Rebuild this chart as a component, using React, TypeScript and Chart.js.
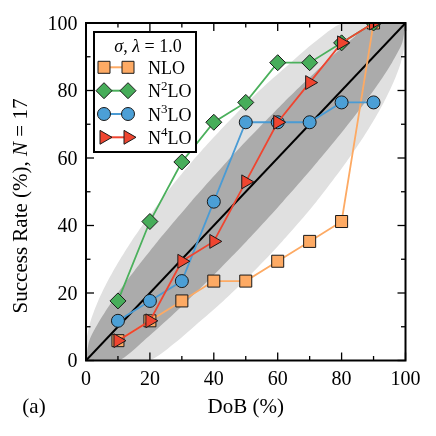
import React, { useEffect, useRef } from 'react';
import { Chart, registerables } from 'chart.js';

Chart.register(...registerables);

// ---- data ----
const dobValues = [10, 20, 30, 40, 50, 60, 70, 80, 90];
const nloRate = [5.88, 11.76, 17.65, 23.53, 23.53, 29.41, 35.29, 41.18, 100];
const n2loRate = [17.65, 41.18, 58.82, 70.59, 76.47, 88.24, 88.24, 94.12, 100];
const n3loRate = [11.76, 17.65, 23.53, 47.06, 70.59, 70.59, 70.59, 76.47, 76.47];
const n4loRate = [5.88, 11.76, 29.41, 35.29, 52.94, 70.59, 82.35, 94.12, 100];
const seriesLabels = ['NLO', 'N²LO', 'N³LO', 'N⁴LO'];

// band edges (DoB values of the band boundaries at each success-rate level)
const bandRate = [0, 5.88, 11.76, 17.65, 23.53, 29.41, 35.29, 41.18, 47.06, 52.94, 58.82, 64.71, 70.59, 76.47, 82.35, 88.24, 94.12, 100];
const band95Left = [0, 0.15, 1.46, 3.8, 6.8, 10.3, 14.2, 18.5, 23.1, 27.9, 33.1, 38.6, 44.4, 50.5, 57.0, 64.1, 71.3, 80.5];
const band95Right = [19.5, 28.7, 35.9, 43.0, 49.5, 55.6, 61.4, 66.9, 72.1, 76.9, 81.5, 85.8, 89.7, 93.2, 96.2, 98.54, 99.85, 100];
const band68Left = [0, 1.02, 4.23, 8.24, 12.7, 17.45, 22.4, 27.6, 32.9, 38.4, 44.0, 49.8, 55.8, 61.9, 68.3, 74.9, 81.9, 89.8];
const band68Right = [10.2, 18.1, 25.1, 31.7, 38.1, 44.2, 50.2, 56.0, 61.6, 67.1, 72.4, 77.6, 82.55, 87.3, 91.76, 95.77, 98.98, 100];

const diagonalEnds = [0, 100];
const majorTicks = [0, 20, 40, 60, 80, 100];
const minorTicks = [10, 30, 50, 70, 90];
const tickLabels = ['0', '20', '40', '60', '80', '100'];

const SERIF = '"Liberation Serif", "Times New Roman", serif';

const COLORS = {
  nloFill: '#fdaa64', nloLine: '#fdaa64',
  n2Fill: '#47ad5a', n2Line: '#4bb05c',
  n3Fill: '#4b9fd6', n3Line: '#4a9bd4',
  n4Fill: '#ef4530', n4Line: '#ef4530',
  light: '#e0e0e0', dark: '#ababab',
};

function bandPolygon(left: number[], right: number[]) {
  const pts: { x: number; y: number }[] = [];
  for (let i = 0; i < bandRate.length; i++) pts.push({ x: left[i], y: bandRate[i] });
  pts.push({ x: diagonalEnds[1], y: diagonalEnds[1] });
  for (let i = bandRate.length - 1; i >= 0; i--) pts.push({ x: right[i], y: bandRate[i] });
  pts.push({ x: diagonalEnds[0], y: diagonalEnds[0] });
  return pts;
}

function series(vals: number[]) {
  return dobValues.map((x, i) => ({ x, y: vals[i] }));
}

type Marker = 'square' | 'diamond' | 'circle' | 'triangle';

function drawMarker(ctx: CanvasRenderingContext2D, kind: Marker, cx: number, cy: number, fill: string) {
  ctx.beginPath();
  if (kind === 'square') {
    ctx.rect(cx - 6, cy - 6, 12, 12);
  } else if (kind === 'diamond') {
    const r = 8;
    ctx.moveTo(cx - r, cy); ctx.lineTo(cx, cy - r); ctx.lineTo(cx + r, cy); ctx.lineTo(cx, cy + r); ctx.closePath();
  } else if (kind === 'circle') {
    ctx.arc(cx, cy, 6.5, 0, Math.PI * 2);
  } else {
    const r = 8;
    ctx.moveTo(cx + r, cy);
    ctx.lineTo(cx - r / 2, cy - r * 0.866);
    ctx.lineTo(cx - r / 2, cy + r * 0.866);
    ctx.closePath();
  }
  ctx.fillStyle = fill;
  ctx.fill();
  ctx.lineWidth = 1;
  ctx.strokeStyle = '#1a1a1a';
  ctx.stroke();
}

const supMap: Record<string, string> = { '²': '2', '³': '3', '⁴': '4' };

function drawRichText(ctx: CanvasRenderingContext2D, parts: { t: string; italic?: boolean; sup?: boolean }[], x: number, y: number, size: number, align: 'left' | 'center') {
  const fontFor = (p: { italic?: boolean; sup?: boolean }) =>
    `${p.italic ? 'italic ' : ''}${p.sup ? Math.round(size * 0.7) : size}px ${SERIF}`;
  let total = 0;
  for (const p of parts) { ctx.font = fontFor(p); total += ctx.measureText(p.t).width; }
  let cx = align === 'center' ? x - total / 2 : x;
  ctx.textAlign = 'left';
  ctx.textBaseline = 'alphabetic';
  for (const p of parts) {
    ctx.font = fontFor(p);
    ctx.fillText(p.t, cx, p.sup ? y - size * 0.42 : y);
    cx += ctx.measureText(p.t).width;
  }
  return total;
}

function labelParts(label: string) {
  const parts: { t: string; sup?: boolean }[] = [];
  for (const ch of label) {
    if (supMap[ch]) parts.push({ t: supMap[ch], sup: true });
    else if (parts.length && !parts[parts.length - 1].sup) parts[parts.length - 1].t += ch;
    else parts.push({ t: ch });
  }
  return parts;
}

const legendItems: { marker: Marker; fill: string; line: string }[] = [
  { marker: 'square', fill: COLORS.nloFill, line: COLORS.nloLine },
  { marker: 'diamond', fill: COLORS.n2Fill, line: COLORS.n2Line },
  { marker: 'circle', fill: COLORS.n3Fill, line: COLORS.n3Line },
  { marker: 'triangle', fill: COLORS.n4Fill, line: COLORS.n4Line },
];

const decorPlugin = {
  id: 'decor',
  afterDatasetsDraw(chart: any) {
    const ctx: CanvasRenderingContext2D = chart.ctx;
    const { left, right, top, bottom } = chart.chartArea;
    const xs = chart.scales.x;
    const ys = chart.scales.y;
    ctx.save();
    ctx.strokeStyle = '#000';
    ctx.lineWidth = 1.3;
    const seg = (x1: number, y1: number, x2: number, y2: number) => {
      ctx.beginPath(); ctx.moveTo(x1, y1); ctx.lineTo(x2, y2); ctx.stroke();
    };
    const ticks = (vals: number[], len: number) => {
      for (const v of vals) {
        const px = xs.getPixelForValue(v);
        const py = ys.getPixelForValue(v);
        seg(px, bottom, px, bottom - len);
        seg(px, top, px, top + len);
        seg(left, py, left + len, py);
        seg(right, py, right - len, py);
      }
    };
    ticks(majorTicks, 8);
    ticks(minorTicks, 4.5);
    ctx.lineWidth = 2;
    ctx.strokeRect(left, top, right - left, bottom - top);

    // tick labels
    ctx.fillStyle = '#000';
    ctx.font = `20px ${SERIF}`;
    ctx.textBaseline = 'alphabetic';
    majorTicks.forEach((v, i) => {
      ctx.textAlign = 'center';
      ctx.fillText(tickLabels[i], xs.getPixelForValue(v), bottom + 24);
      ctx.textAlign = 'right';
      ctx.fillText(tickLabels[i], left - 8.5, ys.getPixelForValue(v) + 6.8);
    });

    // axis titles
    drawRichText(ctx, [{ t: 'DoB (%)' }], (left + right) / 2, 413, 21, 'center');
    drawRichText(ctx, [{ t: '(a)' }], 34, 413, 21, 'center');
    ctx.save();
    ctx.translate(27, 206);
    ctx.rotate(-Math.PI / 2);
    drawRichText(ctx, [{ t: 'Success Rate (%), ' }, { t: 'N', italic: true }, { t: ' = 17' }], 0, 0, 21, 'center');
    ctx.restore();

    // legend
    const bx = 94, by = 32, bw = 102, bh = 120;
    ctx.fillStyle = '#fff';
    ctx.fillRect(bx, by, bw, bh);
    ctx.lineWidth = 2;
    ctx.strokeStyle = '#000';
    ctx.strokeRect(bx, by, bw, bh);
    ctx.fillStyle = '#000';
    drawRichText(ctx, [{ t: 'σ', italic: true }, { t: ', ' }, { t: 'λ', italic: true }, { t: ' = 1.0' }], 148, 52, 18, 'center');
    const rowY = [67.3, 90.7, 114, 137.3];
    legendItems.forEach((it, i) => {
      const y = rowY[i];
      ctx.strokeStyle = it.line;
      ctx.lineWidth = 2;
      seg(104, y, 128, y);
      drawMarker(ctx, it.marker, 104, y, it.fill);
      drawMarker(ctx, it.marker, 128, y, it.fill);
      ctx.fillStyle = '#000';
      drawRichText(ctx, labelParts(seriesLabels[i]), 148, y + 6.5, 18, 'left');
    });
    ctx.restore();
  },
};

export default function App() {
  const ref = useRef<HTMLCanvasElement | null>(null);
  useEffect(() => {
    if (!ref.current) return;
    const lineSet = (label: string, vals: number[], fill: string, line: string, style: any, radius: number, order: number, rotation = 0) => ({
      label,
      data: series(vals),
      borderColor: line,
      backgroundColor: fill,
      borderWidth: 1.8,
      pointStyle: style,
      pointRotation: rotation,
      pointRadius: radius,
      pointBackgroundColor: fill,
      pointBorderColor: '#1a1a1a',
      pointBorderWidth: 1,
      fill: false,
      tension: 0,
      clip: 0,
      order,
    });
    const chart = new Chart(ref.current, {
      type: 'line',
      data: {
        datasets: [
          {
            label: '95% band',
            data: bandPolygon(band95Left, band95Right),
            fill: 'shape',
            backgroundColor: COLORS.light,
            borderWidth: 0,
            pointRadius: 0,
            tension: 0.25,
            clip: 0,
            order: 6,
          } as any,
          {
            label: '68% band',
            data: bandPolygon(band68Left, band68Right),
            fill: 'shape',
            backgroundColor: COLORS.dark,
            borderWidth: 0,
            pointRadius: 0,
            tension: 0.25,
            clip: 0,
            order: 5,
          } as any,
          {
            label: 'diagonal',
            data: diagonalEnds.map((v) => ({ x: v, y: v })),
            borderColor: '#000',
            borderWidth: 2,
            pointRadius: 0,
            fill: false,
            clip: 0,
            order: 4,
          } as any,
          lineSet(seriesLabels[0], nloRate, COLORS.nloFill, COLORS.nloLine, 'rect', 8.5, 3),
          lineSet(seriesLabels[1], n2loRate, COLORS.n2Fill, COLORS.n2Line, 'rectRot', 8, 2),
          lineSet(seriesLabels[2], n3loRate, COLORS.n3Fill, COLORS.n3Line, 'circle', 6.5, 1),
          lineSet(seriesLabels[3], n4loRate, COLORS.n4Fill, COLORS.n4Line, 'triangle', 8, 0, 90),
        ],
      },
      options: {
        animation: false,
        responsive: false,
        devicePixelRatio: 1,
        layout: { padding: { left: 86, top: 23, right: 30.5, bottom: 75.5 } },
        scales: {
          x: { type: 'linear', min: 0, max: 100, display: false },
          y: { type: 'linear', min: 0, max: 100, display: false },
        },
        plugins: { legend: { display: false }, tooltip: { enabled: false } },
      },
      plugins: [decorPlugin],
    } as any);
    return () => chart.destroy();
  }, []);
  return (
    <div style={{ position: 'absolute', left: 0, top: 0, width: 436, height: 436, background: '#fff' }}>
      <canvas ref={ref} width={436} height={436} />
    </div>
  );
}
